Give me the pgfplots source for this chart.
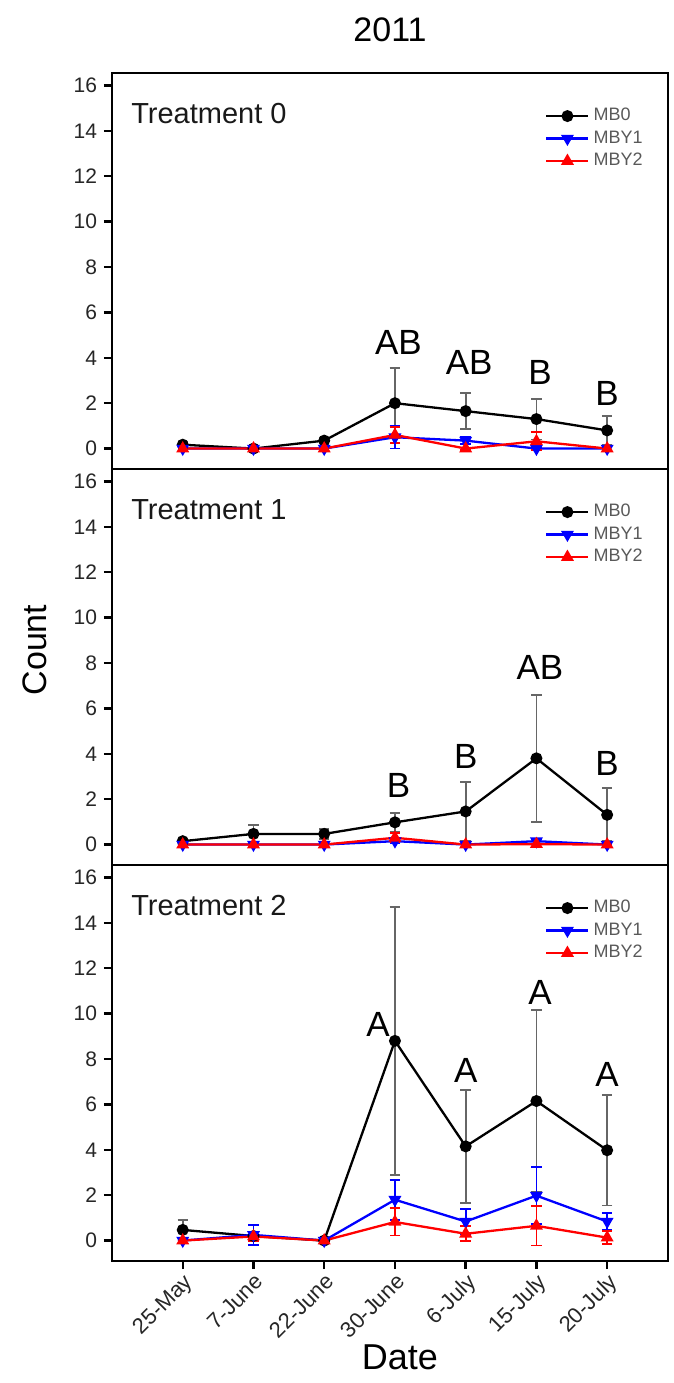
\documentclass[border=0pt]{standalone}
\usepackage{fontspec}
\setmainfont{Liberation Sans}
\usepackage{pgfplots}
\usepackage{pgfplotstable}
\pgfplotsset{compat=1.18}

\pgfplotstableread{
x  mb  emb  ya   eya  yb   eyb
0  0.17 0.13 0.0 0.05 0.0 0.05
1  0.0  0.0  0.0 0.0  0.0 0.0
2  0.35 0.12 0.0 0.0  0.0 0.0
3  2.0  1.55 0.5 0.5  0.6 0.35
4  1.65 0.8  0.35 0.15 0.0 0.05
5  1.3  0.9  0.0 0.05 0.32 0.4
6  0.8  0.62 0.0 0.05 0.0 0.05
}\tA
\pgfplotstableread{
x  mb  emb  ya   eya  yb   eyb
0  0.15 0.12 0.0 0.0 0.0 0.0
1  0.47 0.4  0.0 0.0 0.0 0.0
2  0.47 0.22 0.0 0.0 0.0 0.0
3  0.98 0.41 0.15 0.1 0.3 0.2
4  1.46 1.31 0.0 0.0 0.0 0.0
5  3.8  2.8  0.15 0.1 0.02 0.02
6  1.31 1.17 0.0 0.0 0.0 0.0
}\tB
\pgfplotstableread{
x  mb  emb  ya   eya  yb   eyb
0  0.47 0.45 0.0 0.0 0.0 0.0
1  0.2  0.2  0.25 0.44 0.18 0.2
2  0.0  0.0  0.0 0.0 0.0 0.0
3  8.8  5.9  1.8 0.88 0.82 0.6
4  4.15 2.5  0.84 0.56 0.3 0.33
5  6.15 4.02 1.98 1.25 0.65 0.87
6  3.98 2.43 0.84 0.36 0.13 0.28
}\tC

\pgfplotsset{
  panel/.style={
    scale only axis, width=278pt, height=198pt,
    xmin=-1, xmax=6.86, ymin=-0.9, ymax=16.55,
    ytick={0,2,...,16},
    axis line style={line width=1.4pt},
    tick pos=left, tick align=outside, major tick length=4pt,
    every tick/.style={black, line width=1.2pt},
    /pgf/number format/assume math mode=true,
    yticklabel style={font=\fontsize{10.5}{12}\selectfont, text=black!85},
    legend style={at={(0.775,0.927)}, anchor=north west, draw=none, fill=none,
      font=\fontsize{9}{10}\selectfont, text=black!65, row sep=-0.5pt,
      inner sep=1pt},
    legend cell align=left,
    legend image code/.code={\draw[mark repeat=2,mark phase=2] plot coordinates {(0pt,0pt)(10.5pt,0pt)(21pt,0pt)};},
  },
  smb/.style={black, line width=1.15pt, mark=*, mark size=2.4pt, mark options={solid,fill=black},
    error bars/.cd, y dir=both, y explicit,
    error bar style={black!60, line width=0.9pt},
    error mark options={black!60, line width=0.9pt, mark size=2.6pt, rotate=90}},
  sya/.style={blue, line width=1.15pt, mark=triangle*, mark size=2.6pt, mark options={solid,fill=blue,rotate=180},
    error bars/.cd, y dir=both, y explicit,
    error bar style={blue, line width=0.9pt},
    error mark options={blue, line width=0.9pt, mark size=2.6pt, rotate=90}},
  syb/.style={red, line width=1.15pt, mark=triangle*, mark size=2.6pt, mark options={solid,fill=red},
    error bars/.cd, y dir=both, y explicit,
    error bar style={red, line width=0.9pt},
    error mark options={red, line width=0.9pt, mark size=2.6pt, rotate=90}},
}
\tikzset{
  lett/.style={font=\fontsize{17.5}{19}\selectfont, anchor=center},
  treat/.style={font=\fontsize{14.5}{16}\selectfont, anchor=west, text=black!90},
}

\begin{document}
\begin{tikzpicture}
\path[use as bounding box] (-56pt,-61pt) rectangle (281pt,630.5pt);

% Panel 1
\begin{axis}[panel, at={(0pt,396pt)}, anchor=south west, xtick=\empty]
\addplot+[smb] table[x=x, y=mb, y error=emb] {\tA};
\addplot+[sya] table[x=x, y=ya, y error=eya] {\tA};
\addplot+[syb] table[x=x, y=yb, y error=eyb] {\tA};
\legend{MB0, MBY1, MBY2}
\node[treat] at (rel axis cs:0.022,0.898) {Treatment 0};
\node[lett] at (axis cs:3.05,4.67) {AB};
\node[lett] at (axis cs:4.05,3.8) {AB};
\node[lett] at (axis cs:5.05,3.36) {B};
\node[lett] at (axis cs:6,2.41) {B};
\end{axis}

% Panel 2
\begin{axis}[panel, at={(0pt,198pt)}, anchor=south west, xtick=\empty]
\addplot+[smb] table[x=x, y=mb, y error=emb] {\tB};
\addplot+[sya] table[x=x, y=ya, y error=eya] {\tB};
\addplot+[syb] table[x=x, y=yb, y error=eyb] {\tB};
\legend{MB0, MBY1, MBY2}
\node[treat] at (rel axis cs:0.022,0.898) {Treatment 1};
\node[lett] at (axis cs:3.05,2.6) {B};
\node[lett] at (axis cs:4.0,3.87) {B};
\node[lett] at (axis cs:5.05,7.81) {AB};
\node[lett] at (axis cs:6,3.58) {B};
\end{axis}

% Panel 3
\begin{axis}[panel, at={(0pt,0pt)}, anchor=south west,
  xtick={0,...,6},
  xticklabels={25-May,7-June,22-June,30-June,6-July,15-July,20-July},
  xticklabel style={rotate=45, anchor=north east, font=\fontsize{11}{13}\selectfont, text=black!85, inner sep=1pt}]
\addplot+[smb] table[x=x, y=mb, y error=emb] {\tC};
\addplot+[sya] table[x=x, y=ya, y error=eya] {\tC};
\addplot+[syb] table[x=x, y=yb, y error=eyb] {\tC};
\legend{MB0, MBY1, MBY2}
\node[treat] at (rel axis cs:0.022,0.898) {Treatment 2};
\node[lett] at (axis cs:2.76,9.54) {A};
\node[lett] at (axis cs:4.0,7.49) {A};
\node[lett] at (axis cs:5.05,10.94) {A};
\node[lett] at (axis cs:6,7.34) {A};
\end{axis}

\node[font=\fontsize{17}{19}\selectfont] at (139pt,615.5pt) {2011};
\node[font=\fontsize{17}{19}\selectfont, rotate=90] at (-38.5pt,305.5pt) {Count};
\node[font=\fontsize{18}{20}\selectfont] at (144pt,-48pt) {Date};
\end{tikzpicture}
\end{document}
